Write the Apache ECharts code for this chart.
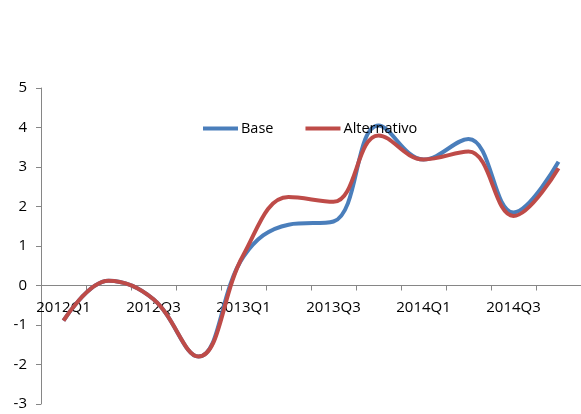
<!DOCTYPE html>
<html>
<head>
<meta charset="utf-8">
<script src="https://cdn.jsdelivr.net/npm/echarts@6/dist/echarts.min.js"></script>
<style>
html,body{margin:0;padding:0;background:#fff;}
#chart{width:581px;height:414px;}
</style>
</head>
<body>
<div id="chart"></div>
<script>
const categories = ['2012Q1','2012Q2','2012Q3','2012Q4','2013Q1','2013Q2','2013Q3','2013Q4','2014Q1','2014Q2','2014Q3','2014Q4'];
const baseValues = [-0.89, 0.12, -0.35, -1.80, 0.73, 1.54, 1.62, 4.05, 3.19, 3.71, 1.85, 3.13];
const altValues  = [-0.89, 0.12, -0.35, -1.80, 0.78, 2.24, 2.12, 3.80, 3.19, 3.39, 1.76, 2.97];
const yTicks = [-3, -2, -1, 0, 1, 2, 3, 4, 5];

const font = '"Open Sans", "Liberation Sans", sans-serif';
const gridTop = 88, gridBottom = 10, chartH = 414;
const plotH = chartH - gridTop - gridBottom;
const yMin = yTicks[0], yMax = yTicks[yTicks.length - 1];
const zeroOffset = -plotH * (0 - yMin) / (yMax - yMin);

const chart = echarts.init(document.getElementById('chart'), null, {renderer: 'canvas'});
chart.setOption({
  animation: false,
  backgroundColor: '#ffffff',
  grid: {left: 41, right: 0, top: gridTop, bottom: gridBottom, containLabel: false, outerBoundsMode: 'none'},
  legend: {
    left: 198, top: 116,
    itemWidth: 35, itemHeight: 4, itemGap: 32,
    icon: 'rect',
    textStyle: {fontFamily: font, fontSize: 14.5, color: '#000', padding: [0, 0, 0, -2]},
    data: ['Base', 'Alternativo']
  },
  xAxis: {
    type: 'category',
    data: categories,
    boundaryGap: true,
    offset: zeroOffset,
    axisLine: {onZero: false, lineStyle: {color: '#868686', width: 1}},
    axisTick: {show: true, interval: 0, length: 5, inside: false, lineStyle: {color: '#868686'}},
    axisLabel: {interval: 1, margin: 15, fontFamily: font, fontSize: 15, color: '#000'},
    splitLine: {show: false}
  },
  yAxis: {
    type: 'value',
    min: yMin, max: yMax, interval: 1,
    axisLine: {show: true, lineStyle: {color: '#868686', width: 1}},
    axisTick: {show: true, length: 5, lineStyle: {color: '#868686'}},
    axisLabel: {margin: 14, fontFamily: font, fontSize: 15, color: '#000'},
    splitLine: {show: false}
  },
  series: [
    {name: 'Base', type: 'line', data: baseValues, smooth: 0.4, showSymbol: false, symbol: 'none',
     lineStyle: {color: '#4A7EBB', width: 4}, itemStyle: {color: '#4A7EBB'}},
    {name: 'Alternativo', type: 'line', data: altValues, smooth: 0.4, showSymbol: false, symbol: 'none',
     lineStyle: {color: '#BE4B48', width: 4}, itemStyle: {color: '#BE4B48'}}
  ]
});
</script>
</body>
</html>
